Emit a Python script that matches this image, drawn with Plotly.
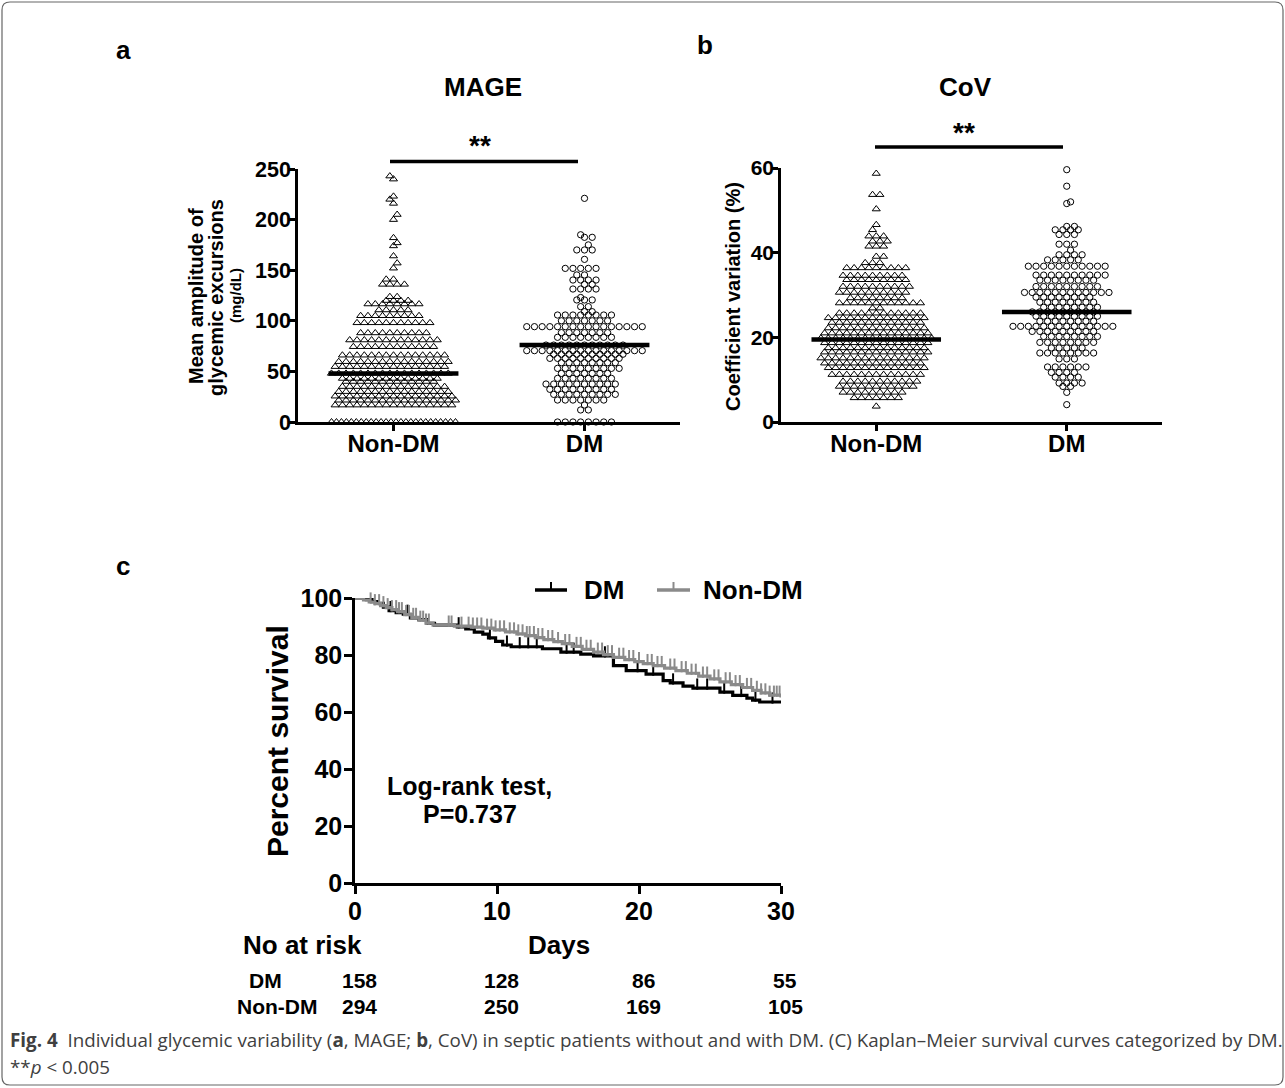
import bisect
import plotly.graph_objects as go

# ---------------- data ----------------
groups = ["Non-DM", "DM"]

# Panel a: MAGE (mg/dL) -- swarm rows: value and number of points in the row
mage_nondm_vals = [0, 16.7, 21.5, 25.5, 30, 35, 40, 43, 48, 54.7, 59.6, 66, 74.4, 81, 88, 98, 105,
                   110.7, 116.6, 120, 123.8, 136, 141, 152, 157, 164, 174, 177, 182, 200, 205,
                   216, 220, 223, 240, 243]
mage_nondm_cnts = [26, 17, 17, 17, 16, 15, 13, 14, 17, 16, 16, 15, 12, 13, 10, 11, 9,
                   5, 8, 4, 2, 4, 2, 1, 1, 1, 1, 1, 1, 1, 1,
                   1, 1, 1, 1, 1]
mage_dm_vals = [0, 11.9, 16.8, 21.7, 27.3, 32.3, 37.5, 43.1, 48, 53, 58.6, 62.9, 67, 70.5, 76,
                83.7, 88.3, 94.2, 100, 105.7, 109, 114, 120.6, 123, 131.4, 136, 140.3, 145.3,
                151.8, 160.7, 170, 175, 182.5, 185, 221]
mage_dm_cnts = [8, 2, 1, 7, 9, 9, 10, 8, 7, 9, 8, 10, 10, 16, 11,
                8, 7, 16, 7, 8, 2, 2, 3, 1, 4, 2, 4, 2,
                5, 1, 3, 1, 2, 1, 1]
mage_medians = [48, 76]

# Panel b: CoV (%)
cov_nondm_vals = [3.7, 5.7, 7.0, 8.4, 9.6, 11.2, 12.8, 13.9, 15.1, 16.5, 17.5, 18.7, 19.8, 21.0,
                  22.2, 23.5, 24.6, 25.7, 26.9, 28.1, 29.3, 30.6, 32.0, 33.6, 34.6, 36.4, 37.6,
                  39.1, 41.5, 42.7, 43.9, 45.4, 46.6, 50.3, 53.7, 58.7]
cov_nondm_cnts = [1, 7, 9, 11, 11, 13, 14, 14, 15, 15, 14, 15, 16, 15,
                  14, 13, 14, 12, 2, 12, 8, 10, 10, 9, 9, 9, 3,
                  2, 3, 3, 3, 1, 1, 1, 2, 1]
cov_dm_vals = [4.1, 7.0, 8.4, 9.2, 10.6, 11.7, 13.0, 14.9, 16.3, 17.5, 18.8, 20.2, 21.4, 22.6,
               23.8, 25.0, 26.0, 27.1, 28.3, 29.5, 30.6, 32.0, 33.5, 34.7, 36.8, 38.3, 39.5,
               40.6, 42.0, 44.3, 45.4, 46.2, 51.6, 52.0, 55.7, 59.6]
cov_dm_cnts = [1, 1, 2, 4, 4, 4, 6, 3, 8, 5, 8, 8, 9, 14,
               8, 9, 9, 8, 8, 8, 12, 9, 8, 10, 11, 5, 4,
               1, 3, 3, 4, 2, 1, 1, 1, 1]
cov_medians = [19.5, 26]

# Panel c: Kaplan-Meier survival (days, percent)
dm_days = [0, 0.8, 1.2, 1.6, 2.0, 2.4, 2.9, 3.4, 3.9, 4.5, 5.1, 5.6, 7.2, 7.8, 8.4, 9.0, 9.4,
           9.9, 10.4, 11.0, 13.2, 14.5, 15.9, 16.8, 18.2, 19.1, 20.5, 21.7, 22.2, 23.1, 23.8,
           25.7, 26.6, 27.6, 28.0, 28.5, 30.0]
dm_surv = [100, 99.4, 98.7, 98.1, 96.8, 95.6, 94.9, 94.3, 93.0, 92.4, 91.1, 90.5, 89.9, 89.2,
           88.0, 87.3, 86.0, 84.8, 83.5, 82.9, 82.2, 81.0, 80.3, 79.7, 76.3, 74.5, 73.3, 71.0,
           70.2, 69.1, 68.4, 67.0, 65.8, 64.9, 64.2, 63.5, 63.5]
dm_censor = [2.5, 3.7, 7.3, 9.5, 10.7, 11.6, 12.2, 12.8, 14.9, 15.4, 17.6, 19.9, 21.0, 22.4,
             24.1, 24.8, 26.0, 27.2, 28.2, 29.4]

nondm_days = [0, 0.6, 1.0, 1.4, 1.8, 2.2, 2.6, 3.0, 3.5, 4.0, 4.5, 5.0, 5.5, 7.0, 8.2, 9.0, 9.8,
              10.6, 11.4, 12.0, 12.7, 13.3, 14.0, 14.6, 15.3, 16.0, 16.8, 17.5, 18.2, 19.0, 19.7,
              20.3, 21.0, 21.8, 22.6, 23.4, 24.2, 25.0, 25.7, 26.5, 27.3, 28.0, 28.6, 29.2, 30.0]
nondm_surv = [100, 99.3, 98.6, 98.0, 97.3, 96.6, 95.9, 95.2, 94.2, 93.2, 92.2, 91.2, 90.5, 90.1,
              89.8, 89.4, 88.8, 88.1, 87.4, 86.8, 86.1, 85.4, 84.7, 84.0, 83.0, 82.0, 81.0, 80.1,
              79.2, 78.4, 77.7, 77.0, 76.3, 75.4, 74.5, 73.6, 72.6, 71.6, 70.6, 69.6, 68.6, 67.6,
              66.7, 65.9, 65.1]
nondm_censor = [0.9, 1.1, 1.4, 1.7, 2.0, 2.3, 2.6, 2.9, 3.1, 3.3, 3.6, 3.8, 4.1, 4.3, 4.6, 4.8,
                5.0, 5.2, 6.6, 6.8, 7.5, 8.0, 8.3, 8.6, 8.9, 9.3, 9.6, 9.9, 10.2, 10.5, 10.9,
                11.2, 11.5, 11.8, 12.1, 12.3, 12.6, 12.9, 13.2, 13.6, 13.9, 14.3, 14.8, 15.1,
                15.6, 15.9, 16.3, 16.6, 17.1, 17.4, 17.8, 18.1, 18.6, 18.9, 19.3, 19.6, 20.0,
                20.6, 20.9, 21.3, 21.6, 22.2, 22.5, 23.0, 23.3, 23.7, 24.0, 24.5, 24.8, 25.3,
                25.6, 26.1, 26.4, 26.8, 27.1, 27.6, 27.9, 28.3, 28.6, 28.9, 29.2, 29.5, 29.7, 29.9]

risk_days = [0, 10, 20, 30]
risk_dm = [158, 128, 86, 55]
risk_nondm = [294, 250, 169, 105]

# ---------------- layout helpers ----------------
W, H = 1285, 1088
FONT = "Liberation Sans, Arial, sans-serif"


def px(x):
    return x / W


def py(y):
    return 1 - y / H


def swarm(center, vals, cnts, spacing_px, px_per_unit, px_per_y, max_half_px=62):
    """Rows of points centred on the category; neighbouring rows that are vertically
    close are staggered by half a spacing so the markers pack like a honeycomb."""
    xs, ys = [], []
    prev_v, prev_offs = None, []
    for v, n in zip(vals, cnts):
        s = spacing_px if n == 1 else min(spacing_px, 2 * max_half_px / (n - 1))
        offs = [(i - (n - 1) / 2) * s for i in range(n)]
        if prev_v is not None and abs(v - prev_v) * px_per_y < spacing_px:
            clash = any(abs(o - p) < s * 0.3 for o in offs for p in prev_offs)
            if clash:
                shift = s / 2 if (len(xs) // 7) % 2 == 0 else -s / 2
                offs = [o + shift for o in offs]
        for o in offs:
            xs.append(center + o / px_per_unit)
            ys.append(v)
        prev_v, prev_offs = v, offs
    return xs, ys


def step_at(days, surv, t):
    i = bisect.bisect_right(days, t) - 1
    return surv[max(i, 0)]


fig = go.Figure()
PPU = 191.0  # pixels per category unit on panels a and b
PPY_A = 253 / 250
PPY_B = 254 / 60

tri = dict(symbol="triangle-up-open", size=7, color="black", line=dict(width=1, color="black"))
cir = dict(symbol="circle-open", size=6.3, color="black", line=dict(width=1, color="black"))

# panel a
x, y = swarm(0, mage_nondm_vals, mage_nondm_cnts, 7.3, PPU, PPY_A)
fig.add_trace(go.Scatter(x=x, y=y, mode="markers", marker=tri, xaxis="x", yaxis="y", cliponaxis=False))
x, y = swarm(1, mage_dm_vals, mage_dm_cnts, 7.7, PPU, PPY_A)
fig.add_trace(go.Scatter(x=x, y=y, mode="markers", marker=cir, xaxis="x", yaxis="y", cliponaxis=False))
for i, m in enumerate(mage_medians):
    fig.add_trace(go.Scatter(x=[i - 0.34, i + 0.34], y=[m, m], mode="lines",
                             line=dict(color="black", width=4.5), xaxis="x", yaxis="y"))

# panel b
x, y = swarm(0, cov_nondm_vals, cov_nondm_cnts, 7.4, PPU, PPY_B)
fig.add_trace(go.Scatter(x=x, y=y, mode="markers", marker=tri, xaxis="x2", yaxis="y2", cliponaxis=False))
x, y = swarm(1, cov_dm_vals, cov_dm_cnts, 7.7, PPU, PPY_B)
fig.add_trace(go.Scatter(x=x, y=y, mode="markers", marker=cir, xaxis="x2", yaxis="y2", cliponaxis=False))
for i, m in enumerate(cov_medians):
    fig.add_trace(go.Scatter(x=[i - 0.34, i + 0.34], y=[m, m], mode="lines",
                             line=dict(color="black", width=4.5), xaxis="x2", yaxis="y2"))

# panel c
BLACK, GREY = "#000000", "#8a8a8a"
fig.add_trace(go.Scatter(x=dm_days, y=dm_surv, mode="lines", line=dict(color=BLACK, width=3.2, shape="hv"),
                         xaxis="x3", yaxis="y3", cliponaxis=False))
fig.add_trace(go.Scatter(x=dm_censor, y=[step_at(dm_days, dm_surv, t) + 1.4 for t in dm_censor],
                         mode="markers", marker=dict(symbol="line-ns", size=8, line=dict(width=2, color=BLACK)),
                         xaxis="x3", yaxis="y3", cliponaxis=False))
fig.add_trace(go.Scatter(x=nondm_days, y=nondm_surv, mode="lines", line=dict(color=GREY, width=3.2, shape="hv"),
                         xaxis="x3", yaxis="y3", cliponaxis=False))
fig.add_trace(go.Scatter(x=nondm_censor, y=[step_at(nondm_days, nondm_surv, t) + 1.4 for t in nondm_censor],
                         mode="markers", marker=dict(symbol="line-ns", size=8, line=dict(width=2, color=GREY)),
                         xaxis="x3", yaxis="y3", cliponaxis=False))

axis_common = dict(showline=True, linecolor="black", linewidth=2.5, showgrid=False, zeroline=False,
                   ticks="outside", tickcolor="black", tickwidth=2.5, fixedrange=True, automargin=False)

fig.update_layout(
    template="none",
    width=W, height=H, margin=dict(l=0, r=0, t=0, b=0, pad=0, autoexpand=False),
    paper_bgcolor="white", plot_bgcolor="white", showlegend=False,
    font=dict(family=FONT, color="black"),
    xaxis=dict(axis_common, domain=[px(298), px(680)], range=[-0.5, 1.5], anchor="y",
               tickvals=[0, 1], ticktext=groups, ticklen=6, ticklabelstandoff=-8,
               tickfont=dict(family=FONT, size=24, weight="bold")),
    yaxis=dict(axis_common, domain=[py(422), py(169)], range=[0, 250], anchor="x",
               tickvals=[0, 50, 100, 150, 200, 250], ticklen=7, ticklabelstandoff=-7,
               tickfont=dict(family=FONT, size=21.5, weight="bold")),
    xaxis2=dict(axis_common, domain=[px(781), px(1162)], range=[-0.5, 1.5], anchor="y2",
                tickvals=[0, 1], ticktext=groups, ticklen=6, ticklabelstandoff=-8,
                tickfont=dict(family=FONT, size=24, weight="bold")),
    yaxis2=dict(axis_common, domain=[py(422), py(168)], range=[0, 60], anchor="x2",
                tickvals=[0, 20, 40, 60], ticklen=7, ticklabelstandoff=-7,
                tickfont=dict(family=FONT, size=21, weight="bold")),
    xaxis3=dict(axis_common, domain=[px(355), px(781)], range=[0, 30], anchor="y3",
                tickvals=[0, 10, 20, 30], ticklen=8, ticklabelstandoff=-4,
                tickfont=dict(family=FONT, size=25, weight="bold")),
    yaxis3=dict(axis_common, domain=[py(883), py(598)], range=[0, 100], anchor="x3",
                tickvals=[0, 20, 40, 60, 80, 100], ticklen=8, ticklabelstandoff=-3,
                tickfont=dict(family=FONT, size=25, weight="bold")),
)

ann = []


def text(x, y, s, size, bold=True, angle=0, xanchor="center", color="black", family=FONT, xref="paper", xshift=0):
    ann.append(dict(x=x if xref != "paper" else px(x), y=py(y), xref=xref, yref="paper", text=s,
                    showarrow=False, textangle=angle, xanchor=xanchor, yanchor="middle", xshift=xshift,
                    font=dict(family=family, size=size, color=color, weight="bold" if bold else "normal")))


# panel letters and titles
text(123, 50, "a", 26)
text(705, 45, "b", 26)
text(123, 566, "c", 26)
text(483, 87, "MAGE", 26)
text(965, 87, "CoV", 26)
text(480, 146, "**", 28)
text(964, 132, "**", 28)

# y-axis titles a and b
text(196, 296, "Mean amplitude of", 20, angle=-90)
text(216, 298, "glycemic excursions", 20, angle=-90)
text(236, 296, "(mg/dL)", 15, angle=-90)
text(733, 297, "Coefficient variation (%)", 20, angle=-90)

# panel c texts
text(277, 741, "Percent survival", 30, angle=-90)
text(470, 786, "Log-rank test,", 25)
text(470, 814, "P=0.737", 25)
text(582, 590, "DM", 26, xanchor="left")
text(701, 590, "Non-DM", 26, xanchor="left")
text(302, 945, "No at risk", 26)
text(559, 945, "Days", 26)
text(265, 980, "DM", 21)
text(277, 1006, "Non-DM", 21)
for d, a, b in zip(risk_days, risk_dm, risk_nondm):
    text(d, 980, str(a), 21, xref="x3", xshift=4)
    text(d, 1006, str(b), 21, xref="x3", xshift=4)

# caption
CAP = "Open Sans, Roboto, sans-serif"
text(8, 1040, "<b>Fig. 4</b>  Individual glycemic variability (<b>a</b>, MAGE; <b>b</b>, CoV) in septic patients "
     "without and with DM. (C) Kaplan–Meier survival curves categorized by DM.", 18.8, bold=False,
     xanchor="left", color="#404040", family=CAP)
text(8, 1067, "**<i>p</i> &lt; 0.005", 18.8, bold=False, xanchor="left", color="#404040", family=CAP)

fig.update_layout(annotations=ann)

shapes = []
# significance bars
shapes.append(dict(type="line", xref="paper", yref="paper", x0=px(390), x1=px(578), y0=py(161.5), y1=py(161.5),
                   line=dict(color="black", width=3.5)))
shapes.append(dict(type="line", xref="paper", yref="paper", x0=px(875), x1=px(1063), y0=py(147), y1=py(147),
                   line=dict(color="black", width=3.5)))
# legend samples
for (x0, x1, col) in [(535, 567, BLACK), (657, 690, GREY)]:
    shapes.append(dict(type="line", xref="paper", yref="paper", x0=px(x0), x1=px(x1), y0=py(590), y1=py(590),
                       line=dict(color=col, width=3.5)))
    xm = (x0 + x1) / 2
    shapes.append(dict(type="line", xref="paper", yref="paper", x0=px(xm), x1=px(xm), y0=py(590), y1=py(582),
                       line=dict(color=col, width=2)))
# rounded frame
x0, x1, yt, yb = px(2), px(1283), py(2), py(1085)
rx, ry = 8 / W, 8 / H
path = (f"M {x0+rx},{yt} L {x1-rx},{yt} Q {x1},{yt} {x1},{yt-ry} L {x1},{yb+ry} Q {x1},{yb} {x1-rx},{yb} "
        f"L {x0+rx},{yb} Q {x0},{yb} {x0},{yb+ry} L {x0},{yt-ry} Q {x0},{yt} {x0+rx},{yt} Z")
shapes.append(dict(type="path", xref="paper", yref="paper", path=path, line=dict(color="#666666", width=1.2)))
fig.update_layout(shapes=shapes)

fig.write_html(
    "out.html",
    config={"displayModeBar": False, "responsive": False},
    post_script=("document.documentElement.style.margin='0';document.documentElement.style.padding='0';"
                 "document.documentElement.style.overflow='hidden';"
                 "document.body.style.margin='0';document.body.style.padding='0';"
                 "document.body.style.overflow='hidden';"),
)
